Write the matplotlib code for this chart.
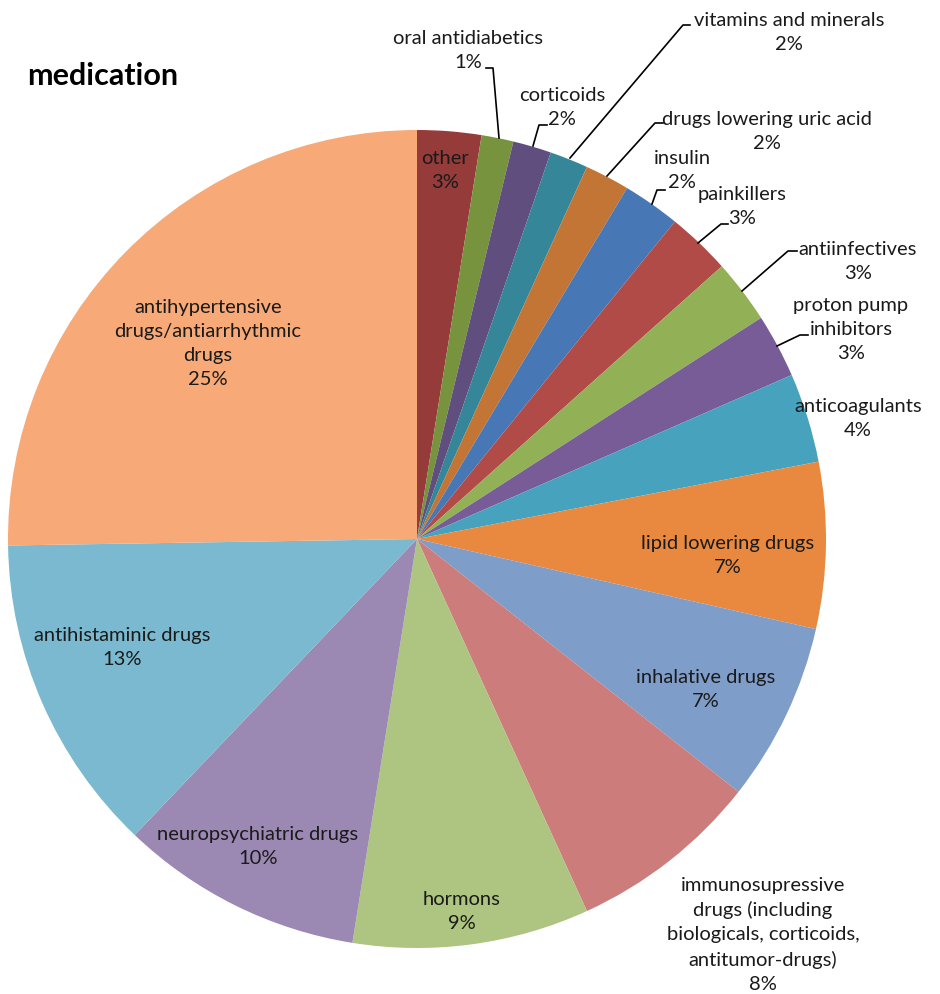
import matplotlib

matplotlib.use("Agg")
import matplotlib.pyplot as plt

W, H = 940, 995

categories = [
    "other", "oral antidiabetics", "corticoids", "vitamins and minerals",
    "drugs lowering uric acid", "insulin", "painkillers", "antiinfectives",
    "proton pump\ninhibitors", "anticoagulants", "lipid lowering drugs",
    "inhalative drugs",
    "immunosupressive\ndrugs (including\nbiologicals, corticoids,\nantitumor-drugs)",
    "hormons", "neuropsychiatric drugs", "antihistaminic drugs",
    "antihypertensive\ndrugs/antiarrhythmic\ndrugs",
]
counts = [10, 5, 6, 6, 7, 9, 10, 10, 10, 14, 26, 28, 30, 37, 38, 50, 100]
colors = [
    "#953B3A", "#77933E", "#604E7E", "#358699", "#C27535", "#4877B6",
    "#B14B48", "#92B156", "#775C98", "#47A3BD", "#E8893F", "#7F9DC9",
    "#CC7C7B", "#ADC580", "#9B88B3", "#7AB9CF", "#F7A978",
]

# label block centres in pixel coords (x, y from top)
LABEL_POS = [
    (445, 171), (468, 51), (562, 108), (789, 33), (767, 132), (682, 171),
    (742, 207), (858, 262), (851, 330), (858, 419), (728, 556), (706, 690),
    (763, 935), (462, 912), (258, 847), (122, 648), (208, 344),
]
# leader lines (pixel polylines) for the labels outside the pie
LEADERS = {
    1: [(486, 69), (493, 69), (499, 139)],
    2: [(547, 126), (539, 126), (533, 147)],
    3: [(690, 26), (683, 26), (570, 159)],
    4: [(663, 124), (655, 124), (607, 177)],
    5: [(665, 191), (657, 191), (652, 205)],
    6: [(728, 225), (721, 225), (698, 244)],
    7: [(797, 252), (788, 252), (742, 292)],
    8: [(808, 336), (800, 336), (777, 347)],
}

CX, CY, R = 417, 540, 409
FONT = ["Lato", "DejaVu Sans"]


def px(x, y):
    return x, H - y


fig = plt.figure(figsize=(W / 100, H / 100), dpi=100)
ax = fig.add_axes([0, 0, 1, 1])
ax.pie(counts, colors=colors, startangle=90, counterclock=False,
       center=px(CX, CY), radius=R, wedgeprops=dict(linewidth=0))
ax.set_xlim(0, W)
ax.set_ylim(0, H)
ax.set_aspect("equal")
ax.axis("off")

total = sum(counts)
for i, (name, c) in enumerate(zip(categories, counts)):
    pct = f"{round(100 * c / total)}%"
    ax.text(*px(*LABEL_POS[i]), f"{name}\n{pct}", ha="center", va="center",
            fontsize=14.5, family=FONT, color="#1a1a1a", linespacing=1.5)
for pts in LEADERS.values():
    xs, ys = zip(*[px(*p) for p in pts])
    ax.plot(xs, ys, color="black", lw=1.2)

ax.text(*px(27, 76), "medication", ha="left", va="center", fontsize=22,
        fontweight="bold", family=FONT, color="black")

fig.savefig("out.png", dpi=100)
